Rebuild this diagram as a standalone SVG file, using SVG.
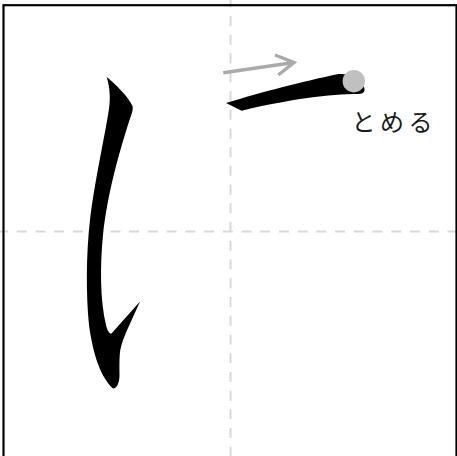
<svg xmlns="http://www.w3.org/2000/svg" width="457" height="456" viewBox="0 0 457 456">
<style>
.grid{stroke:#d9d9d9;stroke-width:2;stroke-dasharray:10 8.73;fill:none}
.frame{fill:none;stroke:#000;stroke-width:2.2}
.ink{fill:#000;stroke:none}
.arrow{stroke:#aaaaaa;stroke-width:3.4;fill:none;stroke-linecap:butt;stroke-linejoin:miter}
.label{font-family:"Noto Sans CJK JP","Noto Sans CJK SC",sans-serif;font-size:24px;fill:#1a1a1a;letter-spacing:4.5px}
</style>
<rect width="457" height="456" fill="#fff"/>
<g id="grid">
<line class="grid" x1="230.5" y1="-2.7" x2="230.5" y2="460"/>
<line class="grid" x1="-2" y1="231.5" x2="460" y2="231.5"/>
</g>
<rect id="frame" class="frame" x="3.5" y="5.2" width="453" height="453"/>
<g id="stroke1">
<path class="ink" d="M106.7 77 C115 84 128 96 132.5 106 C133.5 110 131 116 129.5 120 C120 150 108 190 103 235 C100 265 100 300 106 325 C107.5 331 109.5 334 111.5 333.5 L140 301.5 C133 318 125 333 121.5 345 C119 352 119.5 365 119.5 375 C119.5 384 116 389 113 388.5 C101 378 93 355 89 325 C86 295 86 255 90 220 C95 180 104 140 108 115 C111 100 110 88 106.7 77 Z"/>
</g>
<g id="stroke2">
<path class="ink" d="M226 103 C262 92 305 81 336 74.5 C348 72.5 359 78 363.5 86 C366 91 364 94 358 94 C330 94 290 99 241.7 110.7 Z"/>
</g>
<g id="connectors">
<path class="arrow" d="M223.3 72.7 L294 62.5 M275 55 L294 62.5 L278.3 75"/>
</g>
<g id="stop-dot">
<circle cx="353.8" cy="81.2" r="11.2" fill="#c0c0c0"/>
</g>
<g id="label">
<text class="label" x="351.5" y="131">とめる</text>
</g>
</svg>
